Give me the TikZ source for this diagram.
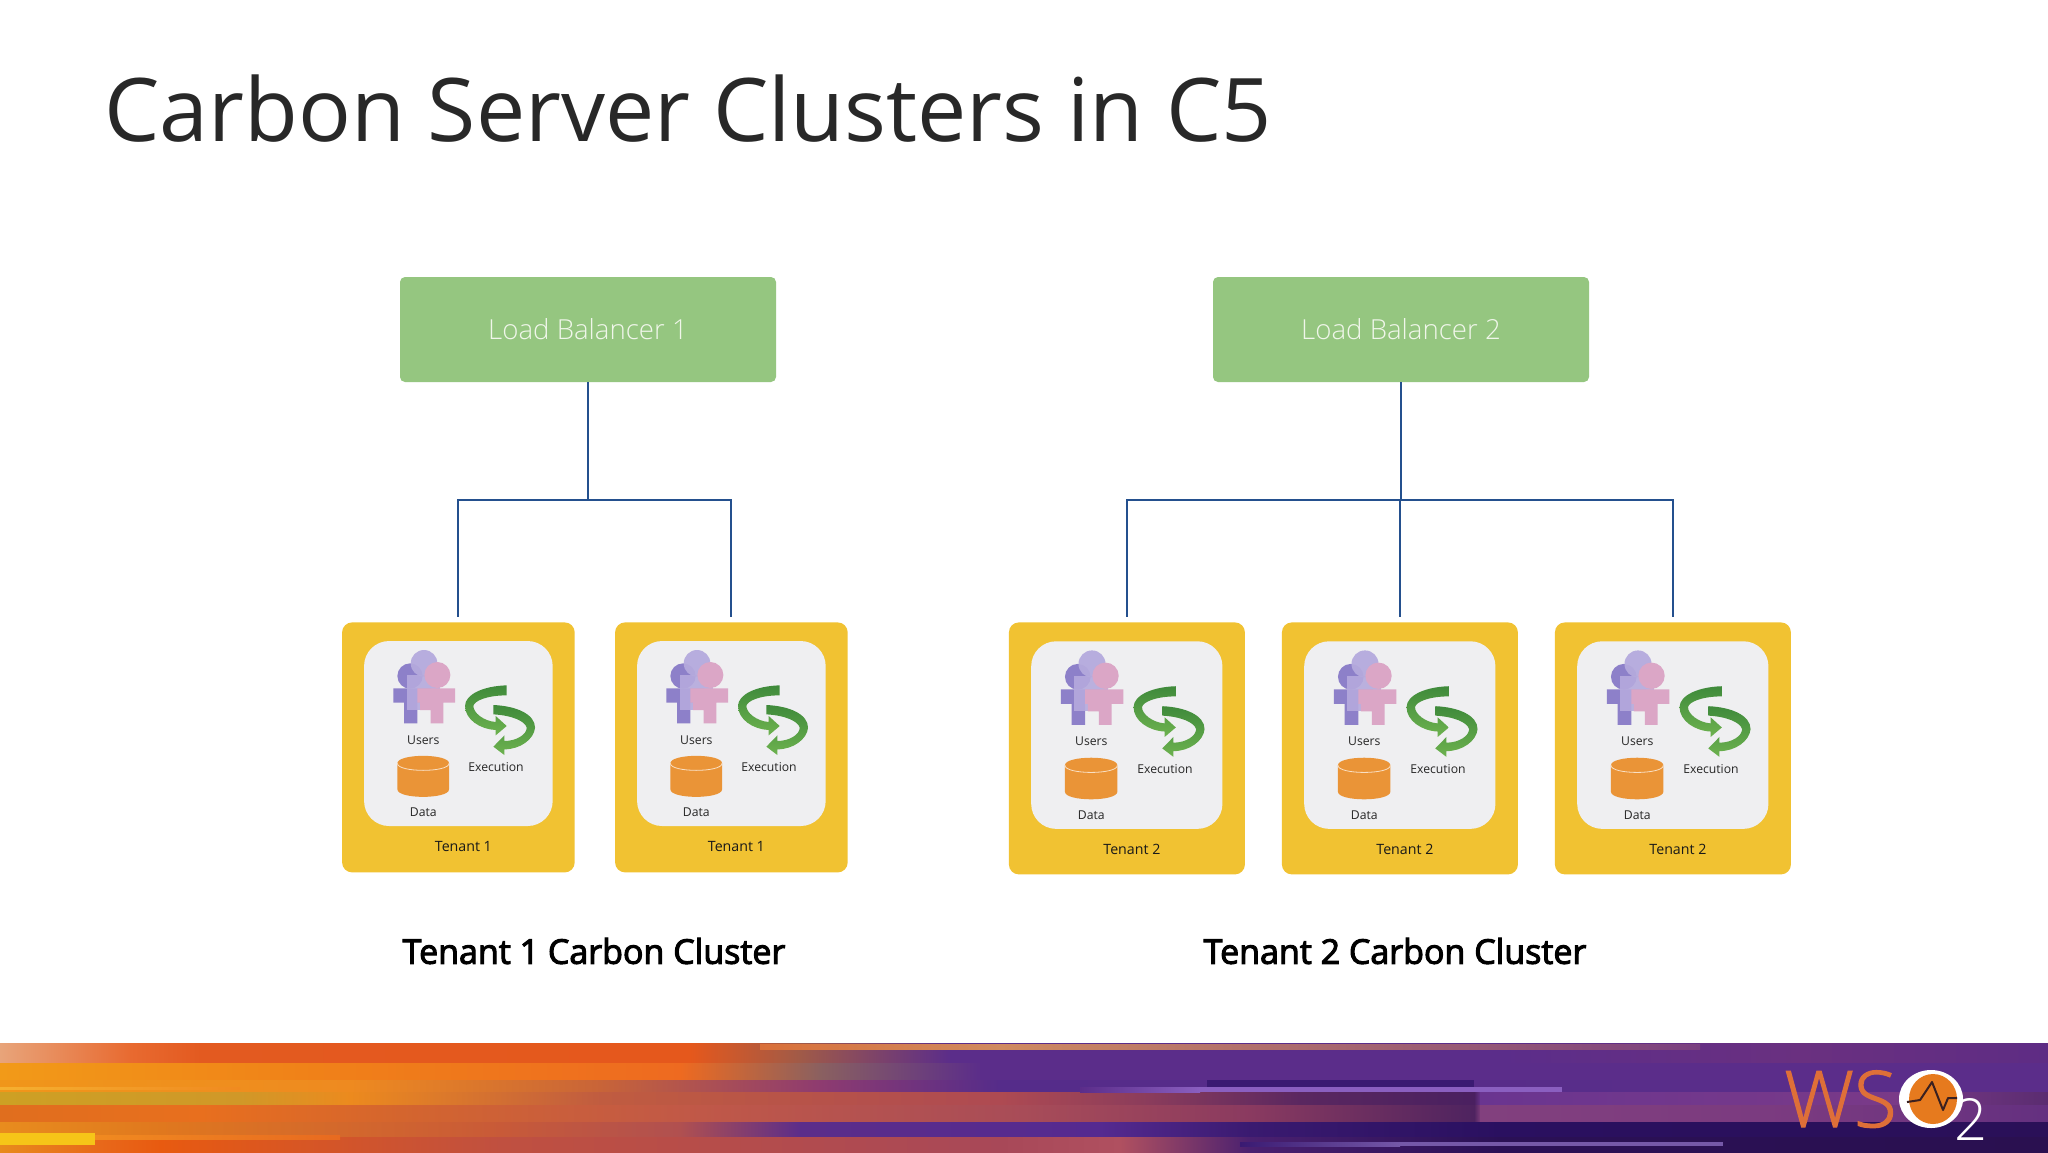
\documentclass[tikz,border=0pt]{standalone}
\usepackage{fontspec}
\setmainfont{Open Sans}
\newfontfamily\litef{Open Sans Light}
\newfontfamily\logof[FakeBold=1.5]{Open Sans Light}
\newfontfamily\semif[FakeBold=3]{Open Sans}
\usepackage{tikz}
\definecolor{lbgreen}{HTML}{95C680}
\definecolor{lbtext}{HTML}{F0F6EA}
\definecolor{wire}{HTML}{24508E}
\definecolor{tileY}{HTML}{F1C232}
\definecolor{panel}{HTML}{EFEFF1}
\definecolor{ink}{HTML}{282828}
\definecolor{arrD}{HTML}{3F8A3B}
\definecolor{arrL}{HTML}{6DB24F}
\definecolor{drum}{HTML}{EA9437}
\definecolor{manA}{HTML}{8D80C9}
\definecolor{manB}{HTML}{B5AADD}
\definecolor{manC}{HTML}{DBA6C6}
\definecolor{stripA}{HTML}{D9703A}
\definecolor{stripM}{HTML}{D08A60}
\definecolor{stripB}{HTML}{7A4080}
\definecolor{lilac}{HTML}{8A5FC0}
\definecolor{deep}{HTML}{3A1A72}
\definecolor{faint}{HTML}{7558A8}
\definecolor{sunny}{HTML}{F6C518}
\definecolor{amber}{HTML}{F08A20}
\definecolor{gleam}{HTML}{F5B030}
\definecolor{fadeO}{HTML}{E86A20}
\definecolor{fadeP}{HTML}{5B2D8A}
\definecolor{logoO}{HTML}{DE6F38}
\definecolor{logoC}{HTML}{E67A1E}
\definecolor{beat}{HTML}{3A2020}
\tikzset{
  lb/.style={fill=lbgreen,text=lbtext,rounded corners=2.5pt,minimum width=188pt,minimum height=52.5pt,inner sep=0pt,font=\fontsize{13.8}{15}\litef},
  tile/.style={fill=tileY,rounded corners=5pt,inner sep=0pt,anchor=north west},
  panelbox/.style={fill=panel,rounded corners=12.5pt,inner sep=0pt},
  small/.style={text=black!85,inner sep=0pt,font=\fontsize{6.1}{7}\selectfont},
  tlabel/.style={text=black!90,inner sep=0pt,font=\fontsize{7.1}{8}\selectfont},
  clabel/.style={text=black,inner sep=0pt,font=\fontsize{17}{20}\semif},
  conn/.style={draw=wire,line width=1pt},
  hoop/.style={top color=arrD,bottom color=arrL,draw=none},
}
\newcommand\band[3]{%
  \foreach \xx/\cc [remember=\xx as \xp (initially 0),remember=\cc as \cp (initially FFFFFF)] in {#3}{%
    \ifnum\xx>0
      \definecolor{ca}{HTML}{\cp}\definecolor{cb}{HTML}{\cc}%
      \fill[left color=ca,right color=cb] (\xp,#1) rectangle (\xx+1,#2);
    \fi}}
% name, x, y, width pt, height pt, scale, label
\newcommand\tenant[7]{%
  \node[tile,minimum width=#4pt,minimum height=#5pt] (#1) at (#2,#3) {};
  \begin{scope}[shift={(#2,#3)},x=#6*0.16667pt,y=-#6*0.16667pt,shift={(-35,-38)}]
    \node[panelbox,minimum width=#6*94.3pt,minimum height=#6*92.5pt] (#1p) at (385,372.5) {};
    % users
    \fill[manA] (240,200) circle (38);
    \fill[manA] (190,237) -- (305,237) -- (305,280) -- (262,280) -- (262,342) -- (222,342) -- (222,280) -- (190,280) -- cycle;
    \fill[manB,fill opacity=.95] (282,162) circle (40);
    \fill[manB,fill opacity=.9] (230,198) rectangle (330,302);
    \fill[manC] (322,197) circle (39);
    \fill[manC] (262,237) -- (375,237) -- (375,280) -- (340,280) -- (340,342) -- (302,342) -- (302,302) -- (270,302) -- (270,280) -- (262,280) -- cycle;
    \node[small] (#1u) at (280,392) {Users};
    % hoops
    \path[hoop] (530,228) .. controls (460,230) and (405,255) .. (405,290) .. controls (405,330) and (450,360) .. (497,362) -- (497,378) -- (530,350) -- (497,320) -- (497,338) .. controls (460,335) and (430,310) .. (430,290) .. controls (432,275) and (470,258) .. (530,258) -- cycle;
    \path[hoop] (490,287) .. controls (560,290) and (615,315) .. (615,355) .. controls (612,390) and (570,420) .. (523,420) -- (523,437) -- (490,412) -- (523,378) -- (523,395) .. controls (560,395) and (590,375) .. (590,355) .. controls (585,335) and (545,318) .. (490,315) -- cycle;
    \node[small] (#1e) at (498,472) {Execution};
    % drum
    \fill[drum] (202,462) -- (202,540) .. controls (202,570) and (357,570) .. (357,540) -- (357,462) .. controls (357,432) and (202,432) .. (202,462) -- cycle;
    \draw[white!70!drum,line width=.4pt] (202,462) .. controls (202,490) and (357,490) .. (357,462);
    \node[small] (#1d) at (280,610) {Data};
    \node[tlabel] (#1l) at (400,710) {#7};
  \end{scope}}
\begin{document}
\begin{tikzpicture}[x=0.5pt,y=-0.5pt]
\useasboundingbox (0,0) rectangle (2048,1152);
\fill[white] (0,0) rectangle (2048,1152);
% footer bands
\band{1043}{1064}{0/E8A47A,130/E86A30,200/E35A20,690/E5581C,800/A05A48,950/5B2D8A,1500/5B2D8A,1800/6A3080,2048/5E2C84}
\band{1063}{1081}{0/F29A18,300/F08218,680/EE6A20,820/8A6060,980/5B2D8A,1600/5B2D8A,2048/5B2D8A}
\band{1080}{1093}{0/F0961A,350/EE8A20,600/C86438,820/8E3B70,1000/552C8A,2048/5B2D8A}
\band{1092}{1106}{0/CDA024,240/D09828,350/EC8A1E,600/C05C40,1000/AE4A52,1150/8A3C5C,1300/5A2760,1474/4A2060,1480/6A3590,1900/7A3A88,2048/5A2C70}
\band{1105}{1123}{0/E06E1E,200/E86F1E,400/D4652E,700/C05848,1024/A84C58,1250/8A3A60,1474/4E2360,1480/82407E,1800/7A3A80,2048/643080}
\band{1122}{1138}{0/E88C1E,160/E0781E,500/C85A38,680/B05050,800/5B2D8A,1100/552A90,1250/3A1A70,1500/2A1060,2048/2A1058}
\band{1137}{1152}{0/E88A1C,100/E8681A,160/E85A10,500/C05040,1000/A84858,1120/B05060,1250/4A2070,1500/2A1055,2048/2A1050}
\shade[left color=stripA,right color=stripM] (760,1044) rectangle (1000,1049);
\shade[left color=stripM,right color=stripB] (1000,1044) rectangle (1700,1049);
\fill[sunny] (0,1133) rectangle (95,1145);
\shade[left color=amber,right color=fadeO] (95,1135) rectangle (340,1139);
\shade[left color=gleam,right color=amber] (0,1087) rectangle (240,1089);
\fill[deep] (1207,1080) rectangle (1474,1087);
\shade[left color=fadeP,right color=lilac] (1080,1087) rectangle (1200,1092);
\fill[lilac] (1200,1087) rectangle (1562,1092);
\shade[left color=deep,right color=faint] (1240,1142) rectangle (1400,1146);
\fill[faint] (1400,1142) rectangle (1723,1146);
% logo
\node[anchor=base west,inner sep=0pt,text=logoO,font=\fontsize{39}{42}\logof] (wslogo) at (1784,1127) {WS};
\fill[white] (1931,1099) ellipse (32 and 29);
\fill[logoC] (1933,1099) ellipse (24 and 25);
\draw[beat,line width=1pt,line join=round] (1907,1102) -- (1920,1100) -- (1932,1082) -- (1943,1110) -- (1948,1098) -- (1957,1098);
\node[anchor=base west,inner sep=0pt,text=white,font=\fontsize{29}{30}\litef] (wstwo) at (1954,1140) {2};
% title
\node[anchor=base west,inner sep=0pt,text=ink,font=\fontsize{43.9}{50}\selectfont] (title) at (104,141) {Carbon Server Clusters in C5};
% load balancers
\node[lb] (lb1) at (588,329.5) {Load Balancer 1};
\node[lb] (lb2) at (1401,329.5) {Load Balancer 2};
% tenants
\tenant{ta}{341.7}{622}{116.3}{125}{1}{Tenant 1}
\tenant{tb}{614.7}{622}{116.3}{125}{1}{Tenant 1}
\tenant{tc}{1008.5}{622}{118}{126}{1.014}{Tenant 2}
\tenant{td}{1281.5}{622}{118}{126}{1.014}{Tenant 2}
\tenant{te}{1554.5}{622}{118}{126}{1.014}{Tenant 2}
% connectors
\coordinate (j1) at (588,500);
\coordinate (j2) at (1401,500);
\draw[conn] (lb1.south) -- (j1);
\draw[conn,shorten >=2.5pt] (j1) -| (ta.north);
\draw[conn,shorten >=2.5pt] (j1) -| (tb.north);
\draw[conn] (lb2.south) -- (j2);
\draw[conn,shorten >=2.5pt] (j2) -| (tc.north);
\draw[conn,shorten >=2.5pt] (j2) -| (td.north);
\draw[conn,shorten >=2.5pt] (j2) -| (te.north);
% cluster captions
\node[clabel] (c1) at (594,951) {Tenant 1 Carbon Cluster};
\node[clabel] (c2) at (1395,951) {Tenant 2 Carbon Cluster};
\end{tikzpicture}
\end{document}
